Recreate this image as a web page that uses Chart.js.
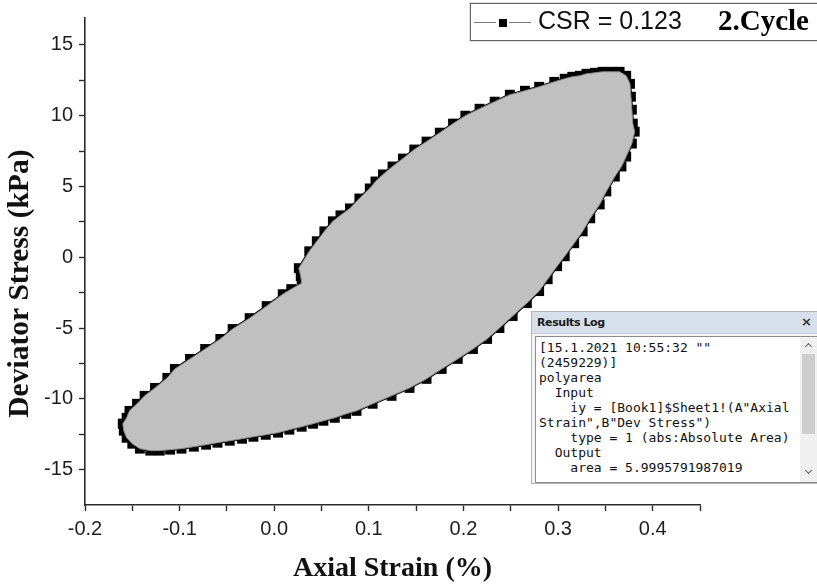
<!DOCTYPE html>
<html>
<head>
<meta charset="utf-8">
<title>CSR = 0.123 - 2.Cycle</title>
<script src="https://cdn.jsdelivr.net/npm/chart.js@4.4.1/dist/chart.umd.min.js"></script>
<style>
  body { margin: 0; background: #fff; }
  #wrap { position: relative; width: 817px; height: 586px; overflow: hidden; background: #fff; }
  #loopChart { position: absolute; left: 0; top: 0; }

  /* legend box top right */
  #legendBox {
    position: absolute; left: 470px; top: 3px; width: 360px; height: 36px;
    border: 1.5px solid #666; background: #fff; box-shadow: 0 0 0 1px #ddd;
  }
  #legendBox .ln { position: absolute; top: 18px; height: 0; border-top: 1.5px solid #777; }
  #legendBox .sq { position: absolute; left: 28px; top: 15px; width: 8px; height: 8px; background: #000; }
  #legendBox .csr { position: absolute; left: 67px; top: 2px; font: 25px "Liberation Sans", Arial, sans-serif; color: #111; }
  #legendBox .cyc { position: absolute; left: 247px; top: 0px; font: bold 29px "Liberation Serif", "Times New Roman", serif; color: #000; }

  /* Origin results log window */
  #resultsLog {
    position: absolute; left: 531px; top: 311px; width: 290px; height: 173px;
    border: 1px solid #b4b4b4; background: #f4f4f4; box-sizing: border-box;
  }
  #resultsLog .bar {
    height: 21px; background: #d6dfea; border-bottom: 1px solid #c3cdd9;
    font: bold 11px "DejaVu Sans", sans-serif; color: #1a1a1a; line-height: 21px; padding-left: 5px;
    letter-spacing: -0.4px;
  }
  #resultsLog .close { position: absolute; right: 8px; top: 0; font: bold 13px "DejaVu Sans", sans-serif; line-height: 20px; color: #333; }
  #resultsLog .body {
    position: absolute; left: 3px; top: 24px; width: 286px; height: 145px;
    border: 1px solid #8c8c8c; background: #fff; overflow: hidden;
  }
  #resultsLog pre {
    margin: 0; padding: 3px 0 0 3px; font: 13px "DejaVu Sans Mono", monospace; line-height: 15px; color: #111;
  }
  #resultsLog .scroll { position: absolute; left: 264px; top: 0; width: 17px; height: 145px; background: #f0f0f0; }
  #resultsLog .thumb { position: absolute; left: 2px; top: 17px; width: 13px; height: 80px; background: #cdcdcd; }
  #resultsLog .up, #resultsLog .down {
    position: absolute; left: 6px; width: 4px; height: 4px; border-left: 1.3px solid #606060; border-top: 1.3px solid #606060;
  }
  #resultsLog .up { top: 7px; transform: rotate(45deg); }
  #resultsLog .down { top: 131px; transform: rotate(225deg); }
</style>
</head>
<body>
<div id="wrap">
  <canvas id="loopChart" width="817" height="586"></canvas>

  <div id="legendBox">
    <div class="ln" style="left:3px;width:22px"></div>
    <div class="sq"></div>
    <div class="ln" style="left:38px;width:22px"></div>
    <div class="csr">CSR = 0.123</div>
    <div class="cyc">2.Cycle</div>
  </div>

  <div id="resultsLog">
    <div class="bar">Results Log</div>
    <div class="close">×</div>
    <div class="body">
<pre>[15.1.2021 10:55:32 ""
(2459229)]
polyarea
  Input
    iy = [Book1]$Sheet1!(A"Axial
Strain",B"Dev Stress")
    type = 1 (abs:Absolute Area)
  Output
    area = 5.9995791987019</pre>
      <div class="scroll"><div class="up"></div><div class="thumb"></div><div class="down"></div></div>
    </div>
  </div>
</div>

<script>
  // hysteresis loop, in drawing order (lower branch -> top -> upper branch)
  const strain = [
    -0.160, -0.159, -0.156, -0.150, -0.142, -0.131, -0.121, -0.110, -0.098, -0.085,
    -0.072, -0.060, -0.047, -0.034, -0.022, -0.009, 0.004, 0.016, 0.029, 0.041,
    0.052, 0.064, 0.076, 0.087, 0.104, 0.124, 0.143, 0.161, 0.177, 0.194,
    0.210, 0.225, 0.238, 0.252, 0.267, 0.280, 0.289, 0.299, 0.307, 0.317,
    0.326, 0.334, 0.344, 0.351, 0.360, 0.367, 0.372, 0.378, 0.381, 0.379,
    0.378, 0.377, 0.376, 0.372, 0.365, 0.357, 0.347, 0.339, 0.330, 0.323,
    0.315, 0.307, 0.296, 0.280, 0.265, 0.249, 0.233, 0.217, 0.202, 0.189,
    0.175, 0.161, 0.148, 0.136, 0.125, 0.115, 0.107, 0.101, 0.090, 0.080,
    0.070, 0.062, 0.053, 0.045, 0.037, 0.026, 0.028, 0.029, 0.018, 0.009,
    -0.008, -0.026, -0.044, -0.057, -0.073, -0.089, -0.105, -0.113, -0.126, -0.137,
    -0.145, -0.153, -0.156, -0.160
  ];
  const devStress = [
    -11.76, -12.25, -12.75, -13.17, -13.52, -13.66, -13.66, -13.59, -13.52, -13.38,
    -13.24, -13.10, -12.96, -12.82, -12.68, -12.54, -12.39, -12.18, -11.97, -11.76,
    -11.55, -11.34, -11.06, -10.85, -10.35, -9.79, -9.23, -8.59, -7.89, -7.18,
    -6.48, -5.77, -5.00, -4.15, -3.24, -2.39, -1.55, -0.63, 0.07, 0.99,
    1.83, 2.75, 3.73, 4.65, 5.70, 6.41, 7.11, 8.03, 8.87, 9.44,
    10.42, 11.34, 12.25, 12.82, 13.10, 13.10, 13.10, 13.03, 12.96, 12.82,
    12.75, 12.61, 12.39, 12.04, 11.76, 11.48, 10.99, 10.49, 10.00, 9.44,
    8.80, 8.17, 7.61, 6.97, 6.41, 5.85, 5.35, 4.86, 4.15, 3.45,
    2.96, 2.54, 1.83, 1.13, 0.42, -0.77, -1.34, -1.83, -2.25, -2.61,
    -3.45, -4.30, -5.07, -5.77, -6.48, -7.18, -7.89, -8.52, -9.23, -9.79,
    -10.35, -10.85, -11.34, -11.76
  ];

  const xTicks = [-0.2, -0.15, -0.1, -0.05, 0, 0.05, 0.1, 0.15, 0.2, 0.25, 0.3, 0.35, 0.4, 0.45];
  const yTicks = [-15, -12.5, -10, -7.5, -5, -2.5, 0, 2.5, 5, 7.5, 10, 12.5, 15];

  const points = strain.map((x, i) => ({ x: x, y: devStress[i] }));

  const axisColor = "#2b2b2b";
  const tickFont = { family: "Liberation Sans", size: 20 };

  const ctx = document.getElementById("loopChart").getContext("2d");
  new Chart(ctx, {
    type: "scatter",
    data: {
      datasets: [
        {
          // square markers, drawn first so the grey area covers their inner half
          label: "CSR = 0.123",
          data: points,
          showLine: true,
          borderColor: "#000",
          borderWidth: 2.5,
          pointStyle: "rect",
          pointRadius: 7,
          pointBackgroundColor: "#000",
          pointBorderColor: "#000",
          pointBorderWidth: 0,
          fill: false,
          order: 2,
        },
        {
          // polyarea fill
          label: "area",
          data: points,
          showLine: true,
          borderColor: "#8a8a8a",
          borderWidth: 1,
          pointRadius: 0,
          backgroundColor: "#c0c0c0",
          fill: "shape",
          order: 1,
        },
      ],
    },
    options: {
      responsive: false,
      animation: false,
      devicePixelRatio: 1,
      layout: { padding: { top: 16, right: 117, left: 0, bottom: 0 } },
      plugins: {
        legend: { display: false },
        tooltip: { enabled: false },
        filler: { drawTime: "beforeDatasetDraw" },
      },
      scales: {
        x: {
          type: "linear",
          min: -0.2,
          max: 0.45,
          afterBuildTicks: (scale) => { scale.ticks = xTicks.map((v) => ({ value: v })); },
          afterFit: (scale) => { scale.height = 81; },
          border: { display: true, color: axisColor, width: 1.6 },
          grid: { drawOnChartArea: false, drawTicks: true, tickLength: 6, tickColor: axisColor, tickWidth: 1.4 },
          ticks: {
            autoSkip: false,
            maxRotation: 0,
            padding: 6,
            color: "#1e1e1e",
            font: tickFont,
            callback: (v) => (Math.abs(v * 10 - Math.round(v * 10)) < 1e-6 ? v.toFixed(1) : ""),
          },
          title: {
            display: true,
            text: "Axial Strain (%)",
            color: "#111",
            font: { family: "Liberation Serif", size: 28, weight: "bold" },
            padding: { top: 4, bottom: 0 },
          },
        },
        y: {
          type: "linear",
          min: -17.5,
          max: 16.9,
          afterBuildTicks: (scale) => { scale.ticks = yTicks.map((v) => ({ value: v })); },
          afterFit: (scale) => { scale.width = 85; },
          border: { display: true, color: axisColor, width: 1.6 },
          grid: { drawOnChartArea: false, drawTicks: true, tickLength: 6, tickColor: axisColor, tickWidth: 1.4 },
          ticks: {
            autoSkip: false,
            padding: 6,
            color: "#1e1e1e",
            font: tickFont,
            callback: (v) => (v % 5 === 0 ? String(v) : ""),
          },
          title: {
            display: true,
            // trailing spaces push the rotated title a little lower, as in the original figure
            text: "Deviator Stress (kPa)      ",
            color: "#111",
            font: { family: "Liberation Serif", size: 29.5, weight: "bold" },
            padding: { top: 3, bottom: 0 },
          },
        },
      },
    },
  });
</script>
</body>
</html>
